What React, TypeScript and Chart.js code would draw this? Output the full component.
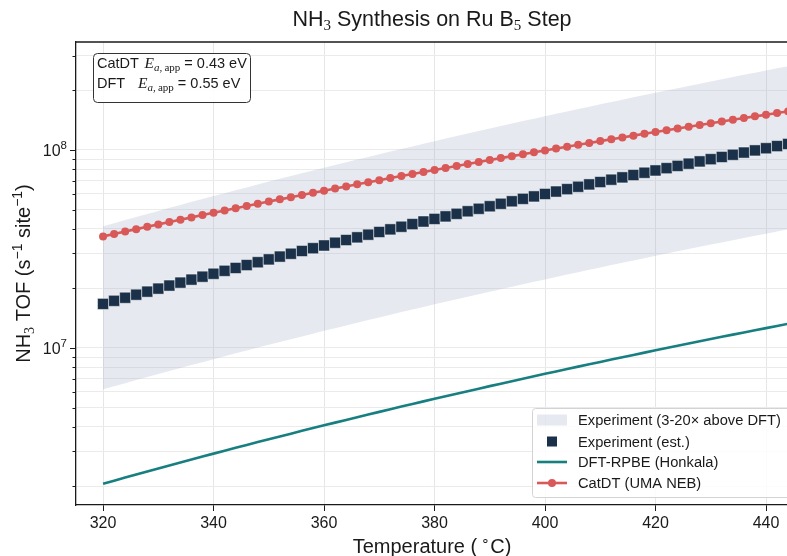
import React, { useEffect, useRef } from 'react';
import { Chart, registerables } from 'chart.js';

Chart.register(...registerables);

// ---------------- data ----------------
const TEMPS = [
  320, 322, 324, 326, 328, 330, 332, 334, 336, 338,
  340, 342, 344, 346, 348, 350, 352, 354, 356, 358,
  360, 362, 364, 366, 368, 370, 372, 374, 376, 378,
  380, 382, 384, 386, 388, 390, 392, 394, 396, 398,
  400, 402, 404, 406, 408, 410, 412, 414, 416, 418,
  420, 422, 424, 426, 428, 430, 432, 434, 436, 438,
  440, 442, 444, 446,
];

const DFT_RPBE = [
  2.060e6, 2.136e6, 2.214e6, 2.294e6, 2.377e6, 2.462e6, 2.550e6, 2.640e6, 2.733e6, 2.828e6,
  2.926e6, 3.027e6, 3.130e6, 3.237e6, 3.346e6, 3.458e6, 3.573e6, 3.692e6, 3.813e6, 3.938e6,
  4.066e6, 4.197e6, 4.331e6, 4.469e6, 4.610e6, 4.755e6, 4.904e6, 5.056e6, 5.212e6, 5.372e6,
  5.536e6, 5.703e6, 5.875e6, 6.051e6, 6.230e6, 6.415e6, 6.603e6, 6.796e6, 6.993e6, 7.194e6,
  7.401e6, 7.611e6, 7.827e6, 8.047e6, 8.272e6, 8.502e6, 8.737e6, 8.977e6, 9.222e6, 9.473e6,
  9.729e6, 9.990e6, 10.257e6, 10.529e6, 10.807e6, 11.091e6, 11.380e6, 11.675e6, 11.976e6, 12.283e6,
  12.596e6, 12.915e6, 13.241e6, 13.573e6,
];

const EXPERIMENT = [
  16.69e6, 17.30e6, 17.93e6, 18.58e6, 19.25e6, 19.94e6, 20.66e6, 21.38e6, 22.14e6, 22.91e6,
  23.70e6, 24.52e6, 25.35e6, 26.22e6, 27.10e6, 28.01e6, 28.94e6, 29.91e6, 30.89e6, 31.90e6,
  32.93e6, 34.00e6, 35.08e6, 36.20e6, 37.34e6, 38.52e6, 39.72e6, 40.95e6, 42.22e6, 43.51e6,
  44.84e6, 46.19e6, 47.59e6, 49.01e6, 50.46e6, 51.96e6, 53.48e6, 55.05e6, 56.64e6, 58.27e6,
  59.95e6, 61.65e6, 63.40e6, 65.18e6, 67.00e6, 68.87e6, 70.77e6, 72.71e6, 74.70e6, 76.73e6,
  78.80e6, 80.92e6, 83.08e6, 85.28e6, 87.54e6, 89.84e6, 92.18e6, 94.57e6, 97.01e6, 99.49e6,
  102.03e6, 104.61e6, 107.25e6, 109.94e6,
];

const BAND_LOW = [
  6.18e6, 6.41e6, 6.64e6, 6.88e6, 7.13e6, 7.39e6, 7.65e6, 7.92e6, 8.20e6, 8.48e6,
  8.78e6, 9.08e6, 9.39e6, 9.71e6, 10.04e6, 10.37e6, 10.72e6, 11.08e6, 11.44e6, 11.81e6,
  12.20e6, 12.59e6, 12.99e6, 13.41e6, 13.83e6, 14.27e6, 14.71e6, 15.17e6, 15.64e6, 16.12e6,
  16.61e6, 17.11e6, 17.63e6, 18.15e6, 18.69e6, 19.25e6, 19.81e6, 20.39e6, 20.98e6, 21.58e6,
  22.20e6, 22.83e6, 23.48e6, 24.14e6, 24.82e6, 25.51e6, 26.21e6, 26.93e6, 27.67e6, 28.42e6,
  29.19e6, 29.97e6, 30.77e6, 31.59e6, 32.42e6, 33.27e6, 34.14e6, 35.03e6, 35.93e6, 36.85e6,
  37.79e6, 38.75e6, 39.72e6, 40.72e6,
];

const BAND_HIGH = [
  41.2e6, 42.7e6, 44.3e6, 45.9e6, 47.5e6, 49.2e6, 51.0e6, 52.8e6, 54.7e6, 56.6e6,
  58.5e6, 60.5e6, 62.6e6, 64.7e6, 66.9e6, 69.2e6, 71.5e6, 73.8e6, 76.3e6, 78.8e6,
  81.3e6, 83.9e6, 86.6e6, 89.4e6, 92.2e6, 95.1e6, 98.1e6, 101.1e6, 104.2e6, 107.4e6,
  110.7e6, 114.1e6, 117.5e6, 121.0e6, 124.6e6, 128.3e6, 132.1e6, 135.9e6, 139.9e6, 143.9e6,
  148.0e6, 152.2e6, 156.5e6, 160.9e6, 165.4e6, 170.0e6, 174.7e6, 179.5e6, 184.4e6, 189.5e6,
  194.6e6, 199.8e6, 205.1e6, 210.6e6, 216.1e6, 221.8e6, 227.6e6, 233.5e6, 239.5e6, 245.7e6,
  251.9e6, 258.3e6, 264.8e6, 271.5e6,
];

const CATDT = [
  36.60e6, 37.65e6, 38.72e6, 39.82e6, 40.94e6, 42.08e6, 43.24e6, 44.43e6, 45.65e6, 46.89e6,
  48.16e6, 49.45e6, 50.76e6, 52.11e6, 53.48e6, 54.87e6, 56.30e6, 57.75e6, 59.23e6, 60.74e6,
  62.27e6, 63.84e6, 65.43e6, 67.05e6, 68.71e6, 70.39e6, 72.10e6, 73.85e6, 75.62e6, 77.43e6,
  79.27e6, 81.14e6, 83.05e6, 84.98e6, 86.95e6, 88.95e6, 90.98e6, 93.06e6, 95.16e6, 97.30e6,
  99.47e6, 101.68e6, 103.92e6, 106.20e6, 108.52e6, 110.87e6, 113.26e6, 115.69e6, 118.15e6, 120.65e6,
  123.19e6, 125.77e6, 128.39e6, 131.04e6, 133.74e6, 136.48e6, 139.25e6, 142.06e6, 144.92e6, 147.82e6,
  150.76e6, 153.73e6, 156.75e6, 159.82e6,
];

const X_TICKS = [320, 340, 360, 380, 400, 420, 440];
const Y_TICKS = [
  2e6, 3e6, 4e6, 5e6, 6e6, 7e6, 8e6, 9e6,
  1e7, 2e7, 3e7, 4e7, 5e7, 6e7, 7e7, 8e7, 9e7,
  1e8, 2e8, 3e8,
];
const Y_MAJOR = [1e7, 1e8];

const LEGEND_LABELS = [
  'Experiment (3-20\u00d7 above DFT)',
  'Experiment (est.)',
  'DFT-RPBE (Honkala)',
  'CatDT (UMA NEB)',
];

// ---------------- style ----------------
const SANS = '"Liberation Sans", Arial, Helvetica, sans-serif';
const SERIF = '"Liberation Serif", "DejaVu Serif", serif';
const C_BAND = 'rgba(150, 163, 188, 0.24)';
const C_EXP = '#1b3149';
const C_DFT = '#177f80';
const C_CAT = '#d95959';
const C_INK = '#1a1a1a';

type Seg = { t: string; f: string; dy?: number };

function richWidth(ctx: CanvasRenderingContext2D, segs: Seg[]) {
  let w = 0;
  for (const s of segs) {
    ctx.font = s.f;
    w += ctx.measureText(s.t).width;
  }
  return w;
}

function drawRich(
  ctx: CanvasRenderingContext2D,
  segs: Seg[],
  x: number,
  y: number,
  align: 'left' | 'center' | 'right' = 'left'
) {
  const w = richWidth(ctx, segs);
  let cx = align === 'center' ? x - w / 2 : align === 'right' ? x - w : x;
  ctx.textAlign = 'left';
  ctx.textBaseline = 'alphabetic';
  for (const s of segs) {
    ctx.font = s.f;
    ctx.fillText(s.t, cx, y + (s.dy || 0));
    cx += ctx.measureText(s.t).width;
  }
  return w;
}

function roundRect(ctx: CanvasRenderingContext2D, x: number, y: number, w: number, h: number, r: number) {
  ctx.beginPath();
  ctx.moveTo(x + r, y);
  ctx.lineTo(x + w - r, y);
  ctx.arcTo(x + w, y, x + w, y + r, r);
  ctx.lineTo(x + w, y + h - r);
  ctx.arcTo(x + w, y + h, x + w - r, y + h, r);
  ctx.lineTo(x + r, y + h);
  ctx.arcTo(x, y + h, x, y + h - r, r);
  ctx.lineTo(x, y + r);
  ctx.arcTo(x, y, x + r, y, r);
  ctx.closePath();
}

const overlayPlugin = {
  id: 'overlay',
  afterDraw(chart: any) {
    const ctx: CanvasRenderingContext2D = chart.ctx;
    const a = chart.chartArea;
    const ys = chart.scales.y;
    ctx.save();
    ctx.fillStyle = C_INK;
    ctx.strokeStyle = C_INK;

    // top spine
    ctx.lineWidth = 1.3;
    ctx.beginPath();
    ctx.moveTo(a.left - 0.65, a.top);
    ctx.lineTo(chart.width + 2, a.top);
    ctx.stroke();

    // y tick marks (major longer than minor)
    ctx.lineWidth = 1;
    for (const v of Y_TICKS) {
      const py = Math.round(ys.getPixelForValue(v)) + 0.5;
      const len = Y_MAJOR.includes(v) ? 6 : 3.5;
      ctx.beginPath();
      ctx.moveTo(a.left - len, py);
      ctx.lineTo(a.left, py);
      ctx.stroke();
    }

    // y tick labels 10^7, 10^8
    for (const v of Y_MAJOR) {
      const py = ys.getPixelForValue(v);
      const exp = String(Math.round(Math.log10(v)));
      drawRich(
        ctx,
        [
          { t: '10', f: `16px ${SANS}` },
          { t: exp, f: `11.5px ${SANS}`, dy: -7.5 },
        ],
        a.left - 9,
        py + 6.5,
        'right'
      );
    }

    // title
    const cxPlot = (a.left + 788) / 2;
    drawRich(
      ctx,
      [
        { t: 'NH', f: `21.5px ${SANS}` },
        { t: '3', f: `15px ${SERIF}`, dy: 4 },
        { t: ' Synthesis on Ru B', f: `21.5px ${SANS}` },
        { t: '5', f: `15px ${SERIF}`, dy: 4 },
        { t: ' Step', f: `21.5px ${SANS}` },
      ],
      cxPlot,
      26,
      'center'
    );

    // x axis title
    drawRich(
      ctx,
      [
        { t: 'Temperature (\u2009', f: `20px ${SANS}` },
        { t: '\u2218', f: `14px ${SANS}`, dy: -8 },
        { t: 'C)', f: `20px ${SANS}` },
      ],
      cxPlot,
      553,
      'center'
    );

    // y axis title (rotated)
    ctx.save();
    ctx.translate(30, (a.top + a.bottom) / 2);
    ctx.rotate(-Math.PI / 2);
    drawRich(
      ctx,
      [
        { t: 'NH', f: `20px ${SANS}` },
        { t: '3', f: `14px ${SERIF}`, dy: 4 },
        { t: ' TOF (s', f: `20px ${SANS}` },
        { t: '\u22121', f: `14px ${SANS}`, dy: -8 },
        { t: ' site', f: `20px ${SANS}` },
        { t: '\u22121', f: `14px ${SANS}`, dy: -8 },
        { t: ')', f: `20px ${SANS}` },
      ],
      0,
      0,
      'center'
    );
    ctx.restore();

    // annotation box
    ctx.fillStyle = 'rgba(255,255,255,0.9)';
    roundRect(ctx, 93.5, 53.5, 157, 49, 4);
    ctx.fill();
    ctx.strokeStyle = '#333';
    ctx.lineWidth = 1;
    ctx.stroke();
    ctx.fillStyle = C_INK;
    const eSegs = (val: string): Seg[] => [
      { t: 'E', f: `italic 15.5px ${SERIF}` },
      { t: 'a', f: `italic 11px ${SERIF}`, dy: 3 },
      { t: ',\u2009app', f: `11px ${SERIF}`, dy: 3 },
      { t: ` = ${val} eV`, f: `14.5px ${SANS}` },
    ];
    drawRich(ctx, [{ t: 'CatDT', f: `14.5px ${SANS}` }], 97, 68);
    drawRich(ctx, eSegs('0.43'), 144.5, 68);
    drawRich(ctx, [{ t: 'DFT', f: `14.5px ${SANS}` }], 97, 88);
    drawRich(ctx, eSegs('0.55'), 138, 88);

    // legend
    const lx = 532.5, ly = 408.5, lw = 262, lh = 89;
    ctx.fillStyle = 'rgba(255,255,255,0.85)';
    roundRect(ctx, lx, ly, lw, lh, 3);
    ctx.fill();
    ctx.strokeStyle = '#d3d3d3';
    ctx.lineWidth = 1;
    ctx.stroke();

    const rows = [420, 441.5, 462, 483];
    const hx0 = 537, hx1 = 567, hxc = 552;
    // band patch
    ctx.fillStyle = C_BAND;
    ctx.fillRect(hx0, rows[0] - 5.5, hx1 - hx0, 11);
    // square
    ctx.fillStyle = C_EXP;
    ctx.fillRect(hxc - 5, rows[1] - 5, 10, 10);
    // teal line
    ctx.strokeStyle = C_DFT;
    ctx.lineWidth = 2.6;
    ctx.beginPath();
    ctx.moveTo(hx0, rows[2]);
    ctx.lineTo(hx1, rows[2]);
    ctx.stroke();
    // red line + dot
    ctx.strokeStyle = C_CAT;
    ctx.beginPath();
    ctx.moveTo(hx0, rows[3]);
    ctx.lineTo(hx1, rows[3]);
    ctx.stroke();
    ctx.fillStyle = C_CAT;
    ctx.beginPath();
    ctx.arc(hxc, rows[3], 4, 0, Math.PI * 2);
    ctx.fill();

    ctx.fillStyle = C_INK;
    LEGEND_LABELS.forEach((lab, i) => {
      drawRich(ctx, [{ t: lab, f: `14.7px ${SANS}` }], 578, rows[i] + 5);
    });

    ctx.restore();
  },
};

export default function App() {
  const ref = useRef<HTMLCanvasElement | null>(null);

  useEffect(() => {
    document.body.style.margin = '0';
    const canvas = ref.current;
    if (!canvas) return;
    const pts = (ys: number[]) => TEMPS.map((t, i) => ({ x: t, y: ys[i] }));

    const chart = new Chart(canvas, {
      type: 'line',
      data: {
        datasets: [
          {
            label: 'CatDT (UMA NEB)',
            data: pts(CATDT),
            borderColor: C_CAT,
            backgroundColor: C_CAT,
            borderWidth: 2.6,
            pointRadius: 4,
            pointBorderWidth: 0,
            pointBackgroundColor: C_CAT,
            fill: false,
          },
          {
            label: 'Experiment (est.)',
            data: pts(EXPERIMENT),
            showLine: false,
            pointStyle: 'rect',
            pointRadius: 7.8,
            pointBackgroundColor: C_EXP,
            pointBorderColor: 'rgba(255,255,255,0.45)',
            pointBorderWidth: 1,
            fill: false,
          },
          {
            label: 'DFT-RPBE (Honkala)',
            data: pts(DFT_RPBE),
            borderColor: C_DFT,
            borderWidth: 2.6,
            pointRadius: 0,
            fill: false,
          },
          {
            label: 'band low',
            data: pts(BAND_LOW),
            borderWidth: 0,
            borderColor: 'rgba(0,0,0,0)',
            pointRadius: 0,
            fill: false,
          },
          {
            label: 'Experiment (3-20\u00d7 above DFT)',
            data: pts(BAND_HIGH),
            borderWidth: 0,
            borderColor: 'rgba(0,0,0,0)',
            backgroundColor: C_BAND,
            pointRadius: 0,
            fill: '-1',
          },
        ],
      },
      options: {
        responsive: false,
        animation: false,
        devicePixelRatio: 1,
        layout: { autoPadding: false, padding: { top: 42, left: 0, right: 0, bottom: 0 } },
        plugins: {
          legend: { display: false },
          title: { display: false },
          tooltip: { enabled: false },
        },
        elements: { line: { tension: 0 } },
        scales: {
          x: {
            type: 'linear',
            min: 315.1,
            max: 443.8,
            afterBuildTicks: (scale: any) => {
              scale.ticks = X_TICKS.map((v) => ({ value: v }));
            },
            afterFit: (scale: any) => {
              scale.height = 51;
              scale.paddingLeft = 0;
              scale.paddingRight = 0;
            },
            ticks: {
              autoSkip: false,
              maxRotation: 0,
              color: C_INK,
              font: { family: SANS, size: 16 },
              padding: 3,
              callback: (v: any) => String(v),
            },
            grid: {
              color: '#e6e6e6',
              lineWidth: 1,
              drawTicks: true,
              tickLength: 6,
              tickColor: C_INK,
              tickWidth: 1,
            },
            border: { display: true, color: C_INK, width: 1.3 },
          },
          y: {
            type: 'logarithmic',
            min: 1.61e6,
            max: 3.51e8,
            afterBuildTicks: (scale: any) => {
              scale.ticks = Y_TICKS.map((v) => ({ value: v }));
            },
            afterFit: (scale: any) => {
              scale.width = 76;
              scale.paddingTop = 0;
              scale.paddingBottom = 0;
            },
            ticks: {
              autoSkip: false,
              callback: () => '',
            },
            grid: {
              color: '#ebebeb',
              lineWidth: 1,
              drawTicks: false,
            },
            border: { display: true, color: C_INK, width: 1.3 },
          },
        },
      },
      plugins: [overlayPlugin],
    } as any);

    return () => chart.destroy();
  }, []);

  return (
    <canvas
      ref={ref}
      width={787}
      height={556}
      style={{ display: 'block', width: 787, height: 556 }}
    />
  );
}
